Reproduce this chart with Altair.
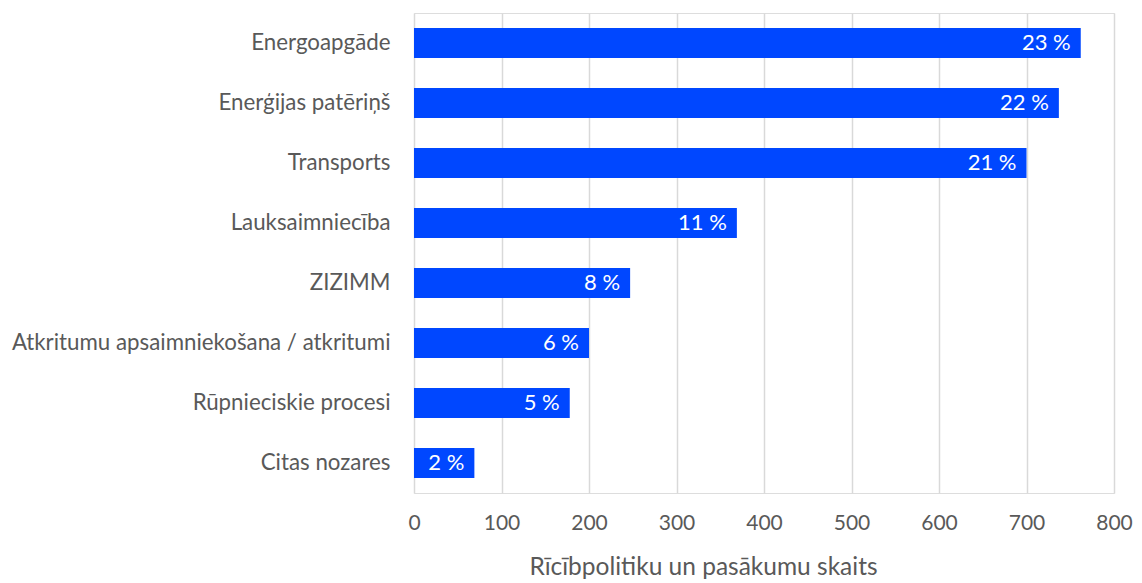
import altair as alt
import pandas as pd

categories = [
    "Energoapgāde",
    "Enerģijas patēriņš",
    "Transports",
    "Lauksaimniecība",
    "ZIZIMM",
    "Atkritumu apsaimniekošana / atkritumi",
    "Rūpnieciskie procesi",
    "Citas nozares",
]
values = [762, 737, 700, 369, 247, 200, 178, 69]
percent_labels = ["23 %", "22 %", "21 %", "11 %", "8 %", "6 %", "5 %", "2 %"]

df = pd.DataFrame({"cat": categories, "val": values, "pct": percent_labels})

FONT = "Lato"
GRAY = "#595959"

y_enc = alt.Y(
    "cat:N",
    sort=categories,
    title=None,
    scale=alt.Scale(paddingInner=0.5, paddingOuter=0.25),
    axis=alt.Axis(
        ticks=False,
        domain=False,
        labelPadding=24,
        labelFont=FONT,
        labelFontSize=22.3,
        labelColor=GRAY,
        labelLimit=600,
    ),
)

x_enc = alt.X(
    "val:Q",
    title="Rīcībpolitiku un pasākumu skaits",
    scale=alt.Scale(domain=[0, 800], nice=False),
    axis=alt.Axis(
        values=[0, 100, 200, 300, 400, 500, 600, 700, 800],
        grid=True,
        gridColor="#d9d9d9",
        gridWidth=1.5,
        domain=False,
        ticks=False,
        labelFlush=False,
        labelPadding=19,
        labelFont=FONT,
        labelFontSize=21,
        labelColor=GRAY,
        titleFont=FONT,
        titleFontSize=24.5,
        titleFontWeight="normal",
        titleColor=GRAY,
        titlePadding=22,
        titleAlign="center",
        titleX=289,
    ),
)

bars = alt.Chart(df).mark_bar(color="#0047ff").encode(x=x_enc, y=y_enc)

text = alt.Chart(df).mark_text(
    align="right", baseline="middle", dx=-10, color="white", font=FONT, fontSize=22
).encode(x="val:Q", y=alt.Y("cat:N", sort=categories), text="pct:N")

chart = (
    (bars + text)
    .properties(
        width=700,
        height=480,
        autosize=alt.AutoSizeParams(type="none"),
        padding={"left": 406, "top": 5, "right": 20, "bottom": 89},
    )
    .configure_view(stroke=None)
    .configure(background="white")
)

chart.save("out.html", embed_options={"renderer": "svg", "actions": False})
